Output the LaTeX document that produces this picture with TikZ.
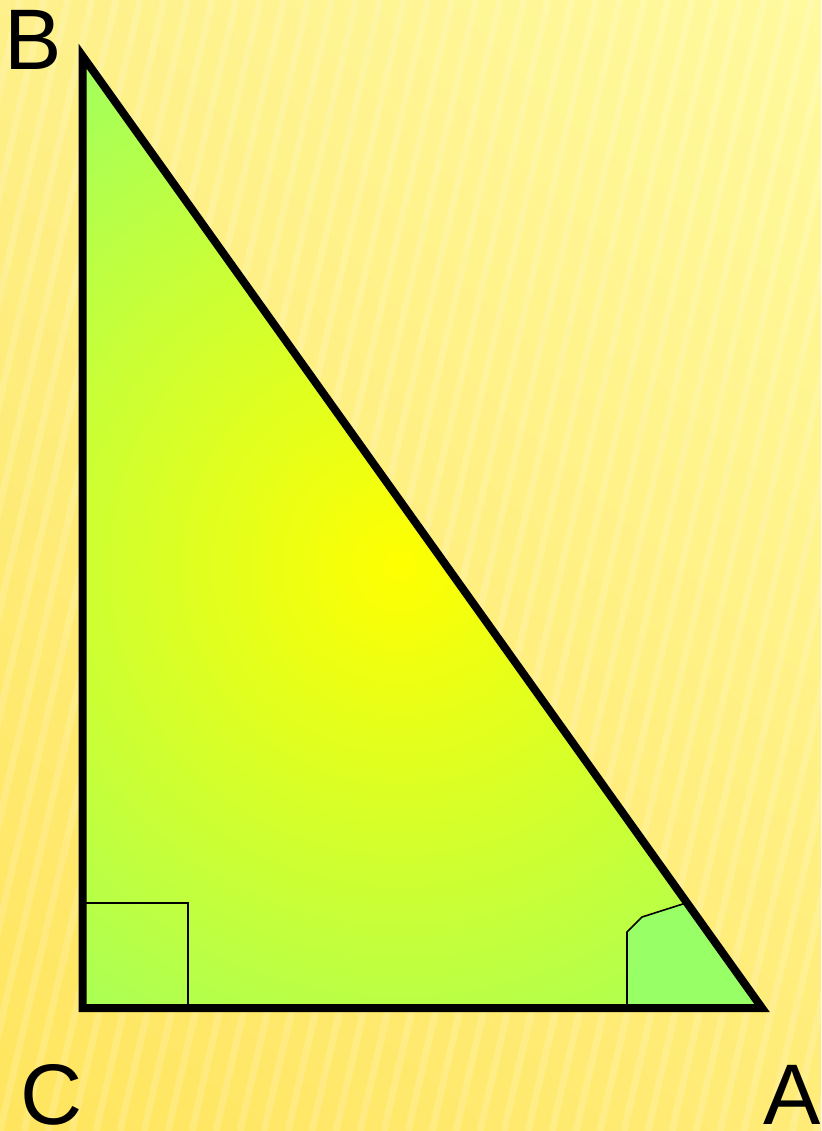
\documentclass[tikz,border=0pt]{standalone}
\usepackage{fontspec}
\setmainfont{Liberation Sans}
\usetikzlibrary{shadings}
\definecolor{bgUL}{HTML}{FEF08A}
\definecolor{bgUR}{HTML}{FFFA9E}
\definecolor{bgLL}{HTML}{FFE55E}
\definecolor{bgLR}{HTML}{FFEC78}
\definecolor{triIn}{HTML}{FFFF00}
\definecolor{triOut}{HTML}{99FF66}
\definecolor{angFill}{HTML}{99FF66}
\tikzset{
  side/.style={line width=8pt, line join=miter, draw=black},
  thinmark/.style={line width=1.6pt, draw=black},
  vlabel/.style={font=\fontsize{86}{86}\selectfont, inner sep=0pt, anchor=base, text=black}
}
\begin{document}
\begin{tikzpicture}[x=1pt,y=-1pt]
\useasboundingbox (0,0) rectangle (821,1131);
% background
\shade[upper left=bgUL, upper right=bgUR, lower left=bgLL, lower right=bgLR] (0,0) rectangle (821,1131);
\begin{scope}
\clip (0,0) rectangle (821,1131);
\foreach \i in {-20,...,40} {
  \draw[white, opacity=0.16, line width=7pt] (\i*24,1131) -- (\i*24+260,0);
}
\end{scope}
% vertices
\coordinate (C) at (82.5,1008);
\coordinate (B) at (82.5,56);
\coordinate (A) at (762,1008);
% triangle fill
\begin{scope}
\clip (C) -- (B) -- (A) -- cycle;
\shade[inner color=triIn, outer color=triOut] (400-650,565-650) rectangle (400+650,565+650);
\coordinate (a1) at (627,1008);
\coordinate (a2) at (627,932);
\coordinate (a3) at (642,917);
\coordinate (a4) at (686,903);
\fill[angFill] (a1) -- (a2) -- (a3) -- (a4) -- (A) -- cycle;
\end{scope}
% right-angle mark
\coordinate (r1) at (86,903);
\coordinate (r2) at (188,903);
\coordinate (r3) at (188,1008);
\draw[thinmark] (r1) -- (r2) -- (r3);
% angle mark at A
\draw[thinmark, line join=round] (a1) -- (a2) -- (a3) -- (a4);
% sides
\draw[side] (C) -- (B) -- (A) -- cycle;
% labels
\node[vlabel] (lB) at (33.5,70) {B};
\node[vlabel] (lC) at (51.5,1124) {C};
\node[vlabel] (lA) at (792.5,1124) {A};
\end{tikzpicture}
\end{document}
